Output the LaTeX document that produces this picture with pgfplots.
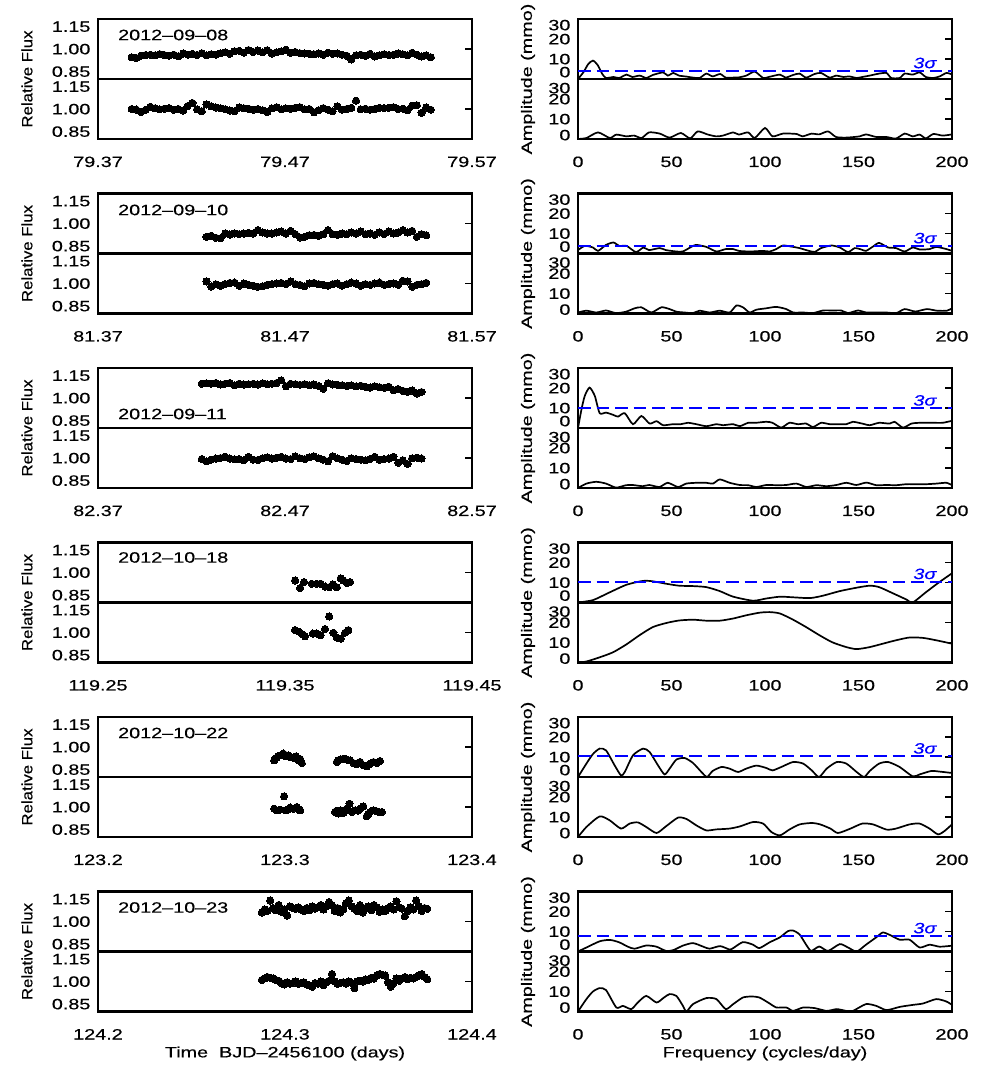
\documentclass[border=0pt]{standalone}
\usepackage{pgfplots}
\pgfplotsset{compat=1.18}
\usepackage{pgfplotstable}
\usepackage{fontspec}
\setmainfont{Liberation Sans}[FakeStretch=1.32, FakeBold=0.4]
\newfontfamily\labfont{Liberation Sans}[FakeStretch=1.12, FakeBold=0.4]

\pgfplotstableread{
t a b
79.3880 0.945 1.000
79.3905 0.940 0.996
79.3930 0.955 0.980
79.3955 0.960 0.995
79.3980 0.962 1.015
79.4005 0.958 1.005
79.4030 0.966 0.998
79.4055 0.960 1.002
79.4080 0.955 1.006
79.4105 0.962 0.995
79.4130 0.952 1.000
79.4155 0.970 0.990
79.4180 0.962 1.020
79.4205 0.968 1.040
79.4230 0.960 0.998
79.4255 0.972 0.985
79.4280 0.958 1.030
79.4305 0.965 1.018
79.4330 0.962 1.010
79.4355 0.972 1.005
79.4380 0.978 0.998
79.4405 0.968 0.990
79.4430 0.985 0.985
79.4455 0.988 1.010
79.4480 0.975 1.005
79.4505 0.993 1.002
79.4530 0.980 0.995
79.4555 0.990 1.000
79.4580 0.978 0.992
79.4605 0.992 0.980
79.4630 0.970 1.004
79.4655 0.978 1.012
79.4680 0.985 0.998
79.4705 0.995 1.004
79.4730 0.975 1.002
79.4755 0.980 1.008
79.4780 0.972 1.012
79.4805 0.970 0.998
79.4830 0.968 1.000
79.4855 0.965 0.978
79.4880 0.970 0.992
79.4905 0.962 1.006
79.4930 0.975 0.995
79.4955 0.968 0.985
79.4980 0.970 1.018
79.5005 0.962 0.995
79.5030 0.955 1.000
79.5055 0.930 1.008
79.5080 0.958 1.055
79.5105 0.962 0.998
79.5130 0.955 1.002
79.5155 0.968 0.995
79.5180 0.950 1.000
79.5205 0.958 1.008
79.5230 0.965 1.006
79.5255 0.960 1.008
79.5280 0.962 1.012
79.5305 0.970 1.000
79.5330 0.965 1.002
79.5355 0.958 0.992
79.5380 0.975 1.022
79.5405 0.962 1.025
79.5430 0.950 0.975
79.5455 0.958 1.010
79.5480 0.945 0.995
}\rowone

\pgfplotstableread{
t a b
81.4280 0.911 1.013
81.4305 0.918 0.980
81.4330 0.905 0.995
81.4355 0.902 0.985
81.4380 0.933 0.996
81.4405 0.926 1.004
81.4430 0.933 1.006
81.4455 0.929 0.985
81.4480 0.933 1.000
81.4505 0.938 0.991
81.4530 0.933 0.985
81.4555 0.956 0.978
81.4580 0.940 0.982
81.4605 0.933 0.991
81.4630 0.933 0.996
81.4655 0.940 1.000
81.4680 0.947 1.004
81.4705 0.933 0.996
81.4730 0.951 1.013
81.4755 0.929 0.996
81.4780 0.907 0.991
81.4805 0.911 0.982
81.4830 0.922 1.000
81.4855 0.924 1.004
81.4880 0.918 0.996
81.4905 0.929 0.991
81.4930 0.956 0.985
81.4955 0.929 0.996
81.4980 0.924 1.000
81.5005 0.933 0.985
81.5030 0.929 0.996
81.5055 0.940 1.006
81.5080 0.933 1.000
81.5105 0.947 0.985
81.5130 0.929 0.996
81.5155 0.933 0.991
81.5180 0.924 1.000
81.5205 0.940 1.006
81.5230 0.929 0.991
81.5255 0.947 0.996
81.5280 0.933 1.000
81.5305 0.940 0.991
81.5330 0.956 1.018
81.5355 0.940 1.013
81.5380 0.951 0.978
81.5405 0.911 0.991
81.5430 0.929 0.996
81.5455 0.922 1.004
}\rowtwo

\pgfplotstableread{
t a b
82.4255 1.095 0.993
82.4280 1.098 0.978
82.4305 1.095 0.989
82.4330 1.100 0.996
82.4355 1.090 1.000
82.4380 1.095 1.009
82.4405 1.100 0.996
82.4430 1.085 0.991
82.4455 1.095 0.993
82.4480 1.090 0.985
82.4505 1.092 1.007
82.4530 1.095 0.989
82.4555 1.090 0.987
82.4580 1.098 0.998
82.4605 1.092 1.004
82.4630 1.095 0.996
82.4655 1.100 1.002
82.4680 1.118 1.008
82.4705 1.078 0.996
82.4730 1.095 0.993
82.4755 1.092 1.011
82.4780 1.088 0.998
82.4805 1.092 0.993
82.4830 1.085 1.005
82.4855 1.090 1.011
82.4880 1.080 0.998
82.4905 1.062 0.989
82.4930 1.098 0.978
82.4955 1.090 1.012
82.4980 1.088 0.998
82.5005 1.085 0.989
82.5030 1.080 0.980
82.5055 1.085 0.998
82.5080 1.078 0.993
82.5105 1.082 0.989
82.5130 1.075 0.985
82.5155 1.070 0.993
82.5180 1.078 1.008
82.5205 1.072 0.989
82.5230 1.068 0.993
82.5255 1.075 0.996
82.5280 1.052 1.008
82.5305 1.060 0.968
82.5330 1.048 0.985
82.5355 1.042 0.960
82.5380 1.050 0.998
82.5405 1.030 1.002
82.5430 1.040 0.996
}\rowthree

\pgfplotstableread{
t a b
124.2876 1.060 1.010
124.2891 1.080 1.020
124.2906 1.070 1.030
124.2921 1.140 1.025
124.2936 1.090 1.020
124.2951 1.075 1.010
124.2966 1.110 1.005
124.2981 1.065 0.990
124.2996 1.080 0.980
124.3011 1.040 0.995
124.3026 1.100 0.985
124.3041 1.090 0.990
124.3056 1.085 1.000
124.3071 1.095 0.985
124.3086 1.080 0.990
124.3101 1.070 0.995
124.3116 1.090 0.980
124.3131 1.075 0.975
124.3146 1.100 0.965
124.3161 1.085 0.990
124.3176 1.095 0.985
124.3191 1.110 1.000
124.3206 1.080 0.975
124.3221 1.100 0.995
124.3236 1.130 1.005
124.3251 1.110 1.050
124.3266 1.070 1.000
124.3281 1.090 0.985
124.3296 1.060 0.990
124.3311 1.080 0.995
124.3326 1.120 0.985
124.3341 1.140 1.000
124.3356 1.100 0.990
124.3371 1.085 0.955
124.3386 1.070 1.000
124.3401 1.110 1.005
124.3416 1.060 1.000
124.3431 1.090 1.015
124.3446 1.100 1.010
124.3461 1.075 1.025
124.3476 1.110 1.020
124.3491 1.095 1.040
124.3506 1.065 1.050
124.3521 1.080 1.045
124.3536 1.070 1.040
124.3551 1.090 0.995
124.3566 1.100 0.965
124.3581 1.080 0.990
124.3596 1.135 1.020
124.3611 1.095 1.005
124.3626 1.085 1.020
124.3641 1.035 1.030
124.3656 1.070 1.015
124.3671 1.095 1.025
124.3686 1.080 1.020
124.3701 1.140 1.030
124.3716 1.100 1.040
124.3731 1.070 1.050
124.3746 1.090 1.030
124.3761 1.085 1.015
}\rowsix

\pgfplotsset{
  panel/.style={scale only axis, width=374pt, height=60pt,
    line width=2.2pt,
    axis line style={line width=2.2pt},
    every outer x axis line/.append style={line width=2.2pt},
    every outer y axis line/.append style={line width=2.2pt},
    tick style={line width=1.8pt, black},
    major tick length=7pt, tick align=inside,
    ytick pos=right, yticklabel pos=left,
    xtick style={draw=none},
    yticklabel style={anchor=base east, yshift=-5.3pt, xshift=-6pt, inner sep=0.5pt},
    xticklabel style={anchor=base, yshift=-28pt},
    extra y tick style={major tick length=0pt, tick style={draw=none}},
  },
  lc/.style={panel, ymin=0.8, ymax=1.2, ytick={1}, yticklabels={1.00},
    extra y ticks={0.85,1.15}, extra y tick labels={0.85,1.15},
    every axis y label/.style={at={(rel axis cs:0,0)}, xshift=-71pt, rotate=90, anchor=center, font=\labfont}},
  pg/.style={panel, xmin=0, xmax=200, ymin=0, ymax=30, ytick={10,20}, yticklabels={10,20},
    extra y ticks={0,30},
    every axis y label/.style={at={(rel axis cs:0,0)}, xshift=-50pt, rotate=90, anchor=center}},
  pgt/.style={pg, xtick=\empty, extra y tick labels={\raisebox{7pt}[0pt][0pt]{0},\raisebox{-6pt}[0pt][0pt]{30}}},
  pgb/.style={pg, xtick={0,50,100,150,200}, xticklabels={0,50,100,150,200},
    extra y tick labels={\raisebox{4pt}[0pt][0pt]{0},\raisebox{-9pt}[0pt][0pt]{30}}},
  up/.style={xtick=\empty},
  dots/.style={only marks, mark=*, mark size=3.6pt, mark options={black, fill=black, line width=0pt}},
  crv/.style={black, line width=1.7pt, smooth, tension=0.4, no marks},
  sig/.style={blue, line width=2.2pt, dash pattern=on 12.5pt off 6pt, no marks},
}
\newcommand\sig[1]{\node[blue, font=\itshape] at (axis cs:185.5,#1+4) {3σ};}

\begin{document}
\fontsize{15}{18}\selectfont
\begin{tikzpicture}
\path[use as bounding box] (0pt,0pt) rectangle (981pt,1088pt);

% ================= ROW 1 =================
\begin{axis}[lc, up, at={(98pt,1009pt)}, anchor=south west, xmin=79.37, xmax=79.57, ylabel={Relative Flux}]
\addplot[dots] table[x=t,y=a] {\rowone};
\node[anchor=west, inner sep=0pt] at (rel axis cs:0.051,0.733) {2012--09--08};
\end{axis}
\begin{axis}[lc, at={(98pt,949pt)}, anchor=south west, xmin=79.37, xmax=79.57,
  xtick={79.37,79.47,79.57}, xticklabels={79.37,79.47,79.57}]
\addplot[dots] table[x=t,y=b] {\rowone};
\end{axis}
\begin{axis}[pgt, at={(578pt,1009pt)}, anchor=south west, ylabel={Amplitude (mmo)}]
\addplot[crv] coordinates {(0,0)(3,3.5)(5.5,7.5)(8,9.2)(10.5,7)(13,2.5)(15,0.5)(19,1)(22,0.5)(26,2.2)(29,1)(33,1.7)(36.5,0.5)(40,2)(45.5,3.3)(48,1.7)(51,3)(54,1.7)(58,1.2)(61.5,0.7)(65,0.5)(68.6,2.7)(72,1.3)(76,2.5)(79,0.7)(83,0.7)(86,0.8)(90,1.7)(94.5,3.7)(99,0.5)(102,1)(108,2.2)(111,0.7)(115,2)(118.5,2.7)(122,0.7)(126.5,2.5)(130,3)(134.5,0.7)(138,1.7)(142,1)(145,1.3)(149,0.5)(152,1)(156,1.7)(161,2.7)(165,3)(167.5,0.5)(172,0.5)(174.7,2.7)(179,2.2)(182.7,3.3)(186,1)(190,0.5)(193.4,1.3)(197,3)(200,2.3)};
\addplot[sig] coordinates {(0,4)(200,4)};
\sig{4}
\end{axis}
\begin{axis}[pgb, at={(578pt,949pt)}, anchor=south west]
\addplot[crv] coordinates {(0,0)(4.5,0.5)(10.7,3.3)(17,0.5)(20.5,2.2)(26,1.3)(30,1.7)(34,0.5)(38,3.3)(43.7,2.7)(49,0.7)(55,3)(60,0.3)(64,3.8)(69.5,2.2)(74,1.3)(77.5,1.7)(83,3.3)(86,2.2)(91,3.3)(94.5,0.5)(100,5.5)(104,1.3)(109.6,2.7)(117,2.5)(120,1.3)(125,2.7)(129,2.3)(133.7,3.8)(138,1)(143.5,0.7)(150.6,1.3)(154,2.3)(159.5,1)(165,1)(170,0.2)(174.7,2.7)(179,1.3)(182.7,2.2)(186,0.3)(190,2.5)(195,1.7)(200,2.3)};
\end{axis}

% ================= ROW 2 =================
\begin{axis}[lc, up, at={(98pt,834.5pt)}, anchor=south west, xmin=81.37, xmax=81.57, ylabel={Relative Flux}]
\addplot[dots] table[x=t,y=a] {\rowtwo};
\node[anchor=west, inner sep=0pt] at (rel axis cs:0.051,0.725) {2012--09--10};
\end{axis}
\begin{axis}[lc, at={(98pt,774.5pt)}, anchor=south west, xmin=81.37, xmax=81.57,
  xtick={81.37,81.47,81.57}, xticklabels={81.37,81.47,81.57}]
\addplot[dots] table[x=t,y=b] {\rowtwo};
\end{axis}
\begin{axis}[pgt, at={(578pt,834.5pt)}, anchor=south west, ylabel={Amplitude (mmo)}]
\addplot[crv] coordinates {(0,1.7)(3.6,3.8)(8,3)(10.7,1.3)(15,4.3)(19,5.5)(22,3.8)(26,3.8)(31,0.7)(35,3)(38,1.7)(43.7,2.7)(47,1.7)(52.6,1)(56,1)(60,3)(63,4.3)(68.6,3.3)(74,1)(79,2.2)(83,2.2)(86,1.3)(92,1)(99,1.3)(102.5,1)(106,2.2)(109.6,4)(115,3.3)(118.5,2.7)(122,1.7)(126.5,0.8)(130,2.7)(135.5,4)(140,3)(144.4,0.7)(148,2.7)(151.5,2)(154,1.3)(157.8,3.5)(161,5.3)(165.8,3)(170,2.7)(174.7,1)(179,3)(182.7,2)(188,2.2)(191.6,3.3)(197,2.2)(200,1.3)};
\addplot[sig] coordinates {(0,3.7)(200,3.7)};
\sig{3.7}
\end{axis}
\begin{axis}[pgb, at={(578pt,774.5pt)}, anchor=south west]
\addplot[crv] coordinates {(0,0.5)(4.5,1.4)(9.8,0.5)(15,1.5)(20.3,0.2)(25.7,0.9)(30.3,2.6)(33.9,3.1)(39.2,0.5)(44.6,3.1)(49,2.2)(52.6,0.9)(57,0.5)(61.5,0.2)(65,1.4)(70.4,0.5)(75.8,1.4)(81.1,0.5)(84.7,4)(88.2,3.1)(91.8,0.5)(95.4,1.9)(100.7,2.6)(106,3.3)(111.4,2.2)(115,0.5)(120.4,0.5)(125.7,0.2)(131,1.5)(136.4,1.5)(140.8,1.5)(144.4,0.2)(149.7,1.5)(154.2,0.5)(159.5,0.5)(164.9,0.5)(170.2,0.2)(174.7,2.2)(180.4,1)(186.6,2.2)(191.9,1.4)(197.3,1.4)(200,2.6)};
\end{axis}

% ================= ROW 3 =================
\begin{axis}[lc, up, at={(98pt,660pt)}, anchor=south west, xmin=82.37, xmax=82.57, ylabel={Relative Flux}]
\addplot[dots] table[x=t,y=a] {\rowthree};
\node[anchor=west, inner sep=0pt] at (rel axis cs:0.051,0.233) {2012--09--11};
\end{axis}
\begin{axis}[lc, at={(98pt,600pt)}, anchor=south west, xmin=82.37, xmax=82.57,
  xtick={82.37,82.47,82.57}, xticklabels={82.37,82.47,82.57}]
\addplot[dots] table[x=t,y=b] {\rowthree};
\end{axis}
\begin{axis}[pgt, at={(578pt,660pt)}, anchor=south west, ylabel={Amplitude (mmo)}]
\addplot[crv] coordinates {(0,0)(1.8,9)(3.6,16)(6.2,20.2)(9,16)(11.6,7.4)(15,7.7)(19,6.5)(21.4,5.7)(25,7.4)(29.4,1.9)(33.9,6)(38.3,2.2)(42,3.4)(45.5,1.4)(50.8,1.9)(55,1.9)(58.8,2.6)(63.3,1.9)(68.6,0.9)(74,1.9)(77.5,1.4)(83,1.9)(86.5,0.9)(91,2.6)(95,2.6)(100.7,3.1)(104,2.6)(108.7,0.2)(113,2.6)(117.6,1.9)(122,2.2)(125.7,0.5)(130,2.6)(134.6,1.9)(138,1.9)(143.5,1.9)(147,3.1)(152,2.2)(156,1.4)(161,2.6)(166.7,2.2)(169.3,3.1)(173.8,0.2)(178.3,2.2)(182.7,2.6)(190,2.6)(195,2.6)(200,3.6)};
\addplot[sig] coordinates {(0,9.8)(200,9.8)};
\sig{9.8}
\end{axis}
\begin{axis}[pgb, at={(578pt,600pt)}, anchor=south west]
\addplot[crv] coordinates {(0,0)(4.5,2.2)(9.8,3.1)(15,2.2)(20.3,0.2)(25.7,1.4)(29.2,1.5)(34.6,0.9)(38.1,1.5)(43.5,0.5)(48,2.6)(53.5,0.5)(57.9,2.2)(63.3,2.6)(68.6,2.6)(72.2,2.2)(75.8,4.3)(81.1,2.6)(86.5,1.5)(91,1.4)(95.4,0.5)(100.7,1.5)(106,1.4)(111.4,1.5)(116.8,2.2)(122.1,0.5)(127.5,1.4)(132.8,0.9)(138.2,1.5)(143.5,2.6)(148.8,1.5)(154.2,2.7)(159.5,1.4)(164.9,1.5)(170.2,1.4)(175.6,1.9)(181,1.9)(186.3,1.9)(191.6,2.2)(197,2.6)(200,1.4)};
\end{axis}

% ================= ROW 4 =================
\begin{axis}[lc, up, at={(98pt,485.5pt)}, anchor=south west, xmin=119.25, xmax=119.45, ylabel={Relative Flux}]
\addplot[dots] coordinates {(119.3554,0.947)(119.3581,0.897)(119.3602,0.936)(119.3643,0.925)(119.3670,0.925)(119.3691,0.925)(119.3714,0.906)(119.3736,0.902)(119.3756,0.920)(119.3777,0.902)(119.3798,0.961)(119.3812,0.947)(119.3831,0.929)(119.3848,0.936)};
\node[anchor=west, inner sep=0pt] at (rel axis cs:0.051,0.75) {2012--10--18};
\end{axis}
\begin{axis}[lc, at={(98pt,425.5pt)}, anchor=south west, xmin=119.25, xmax=119.45,
  xtick={119.25,119.35,119.45}, xticklabels={119.25,119.35,119.45}]
\addplot[dots] coordinates {(119.3554,1.016)(119.3575,1.005)(119.3593,0.989)(119.3607,0.975)(119.3649,0.993)(119.3670,0.993)(119.3691,0.982)(119.3714,1.023)(119.3736,1.107)(119.3759,0.998)(119.3777,0.966)(119.3798,0.959)(119.3821,0.998)(119.3839,1.016)};
\end{axis}
\begin{axis}[pgt, at={(578pt,485.5pt)}, anchor=south west, ylabel={Amplitude (mmo)}]
\addplot[crv] coordinates {(0,0)(8,1.2)(17,5.1)(26,8.9)(34.8,10.8)(40,10.6)(47,9.4)(54,8.4)(61.5,8.2)(68.6,7.7)(75.8,5.7)(83,2.9)(93.6,0.9)(100.7,2)(108,2.9)(115,2.6)(124,2.2)(131,3.4)(140,5.7)(149,7.4)(156,8.4)(161,7.7)(168.4,4.6)(175.6,1.5)(179,0)(186,5.1)(193.4,10.3)(200,14.6)};
\addplot[sig] coordinates {(0,10.3)(200,10.3)};
\sig{10.3}
\end{axis}
\begin{axis}[pgb, at={(578pt,425.5pt)}, anchor=south west]
\addplot[crv] coordinates {(0,0)(4.5,0.5)(11.6,2.6)(18.7,5.1)(25.8,9)(33,13.7)(40,17.7)(47,19.7)(54,21)(61.5,21.4)(68.6,20.9)(75.8,20.9)(83,22)(90,23.6)(97,24.9)(102.5,25.2)(108,24.5)(115,21.4)(122,17.7)(129,13.7)(136,10.1)(143.5,7.7)(149,6.7)(156,7.7)(163,9.4)(170,11.1)(177.3,12.5)(184.5,12.3)(191.6,11.1)(200,9.4)};
\end{axis}

% ================= ROW 5 =================
\begin{axis}[lc, up, at={(98pt,311pt)}, anchor=south west, xmin=123.2, xmax=123.4, ylabel={Relative Flux}]
\addplot[dots] coordinates {(123.2942,0.911)(123.2950,0.925)(123.2956,0.929)(123.2965,0.940)(123.2974,0.944)(123.2991,0.956)(123.3000,0.948)(123.3006,0.938)(123.3018,0.945)(123.3027,0.933)(123.3045,0.929)(123.3059,0.938)(123.3072,0.911)(123.3081,0.920)(123.3090,0.893)
(123.3277,0.900)(123.3286,0.912)(123.3295,0.916)(123.3312,0.922)(123.3322,0.918)(123.3330,0.916)(123.3348,0.911)(123.3366,0.893)(123.3384,0.885)(123.3393,0.895)(123.3402,0.900)(123.3419,0.878)(123.3437,0.871)(123.3446,0.880)(123.3455,0.889)(123.3473,0.900)(123.3491,0.893)(123.3500,0.900)(123.3508,0.907)};
\node[anchor=west, inner sep=0pt] at (rel axis cs:0.051,0.733) {2012--10--22};
\end{axis}
\begin{axis}[lc, at={(98pt,251pt)}, anchor=south west, xmin=123.2, xmax=123.4,
  xtick={123.2,123.3,123.4}, xticklabels={123.2,123.3,123.4}]
\addplot[dots] coordinates {(123.2942,0.989)(123.2956,0.978)(123.2974,0.982)(123.2995,1.071)(123.3006,0.978)(123.3016,0.985)(123.3027,0.996)(123.3045,0.989)(123.3063,1.000)(123.3072,0.985)(123.3081,0.978)
(123.3268,0.967)(123.3276,0.975)(123.3286,0.956)(123.3298,0.978)(123.3312,0.960)(123.3320,0.972)(123.3330,0.989)(123.3345,1.022)(123.3357,0.967)(123.3375,0.978)(123.3390,0.975)(123.3402,0.989)(123.3419,1.004)(123.3437,0.938)(123.3446,0.955)(123.3455,0.967)(123.3473,0.978)(123.3490,0.972)(123.3500,0.967)(123.3518,0.967)};
\end{axis}
\begin{axis}[pgt, at={(578pt,311pt)}, anchor=south west, ylabel={Amplitude (mmo)}]
\addplot[crv] coordinates {(0,0)(4.5,6.7)(8,11.5)(11.6,14.2)(15,13.3)(19.6,5.8)(23,0.8)(25,2.5)(29.4,10.8)(34.8,14.2)(38.3,12.5)(42.8,5.8)(46.3,1.3)(49,4.2)(52.6,8.7)(57,9.5)(61.5,7)(66,2.5)(69,0)(72,3)(76.7,5)(81,4.2)(85.6,2.5)(90,4.2)(95.4,5.7)(100.7,4.5)(104,3.3)(108.7,5)(115,7.5)(120.4,6.7)(125,3.3)(128.9,0)(133,4.2)(138.4,7.5)(143.5,6.7)(149,2.5)(153,0)(156,3)(161,6.7)(165.8,7.5)(172,5)(179,0.3)(182.7,1.3)(188.9,3)(193.4,2.7)(200,2)};
\addplot[sig] coordinates {(0,10.3)(200,10.3)};
\sig{10.3}
\end{axis}
\begin{axis}[pgb, at={(578pt,251pt)}, anchor=south west]
\addplot[crv] coordinates {(0,0)(4.5,5)(11.6,10.3)(17,8.3)(23,4.2)(27.6,6.7)(32,7.3)(36.5,5)(42,2)(47,5.3)(53.5,9.7)(58,9)(63.3,5.8)(68.6,3.3)(74,3.8)(81,4.2)(86.6,5.3)(93.6,7.5)(99,6.7)(103.4,2.5)(108,0.8)(113,3.7)(118.5,6.3)(125,7)(129.5,6.3)(135,4.2)(139,2)(145.7,4.2)(152,6.7)(157.8,6.3)(165,3.7)(170,4.2)(177.3,6.3)(182.7,6.7)(188,4.2)(192.5,1.3)(196,3)(200,6.3)};
\end{axis}

% ================= ROW 6 =================
\begin{axis}[lc, up, at={(98pt,136.5pt)}, anchor=south west, xmin=124.2, xmax=124.4, ylabel={Relative Flux}]
\addplot[dots] table[x=t,y=a] {\rowsix};
\node[anchor=west, inner sep=0pt] at (rel axis cs:0.051,0.733) {2012--10--23};
\end{axis}
\begin{axis}[lc, at={(98pt,76.5pt)}, anchor=south west, xmin=124.2, xmax=124.4,
  xtick={124.2,124.3,124.4}, xticklabels={124.2,124.3,124.4},
  xlabel={Time\ \ BJD--2456100 (days)},
  every axis x label/.style={at={(rel axis cs:0.5,0)}, anchor=center, yshift=-42pt}]
\addplot[dots] table[x=t,y=b] {\rowsix};
\end{axis}
\begin{axis}[pgt, at={(578pt,136.5pt)}, anchor=south west, ylabel={Amplitude (mmo)}]
\addplot[crv] coordinates {(0,0)(4.5,2)(11.6,5.1)(17,5.8)(22,4.6)(26.7,2.4)(30.3,1.4)(36.5,3)(42,2.4)(47,0.3)(51,0.7)(56,2.9)(61.5,4.2)(67,2.4)(70.4,1.4)(76,2.7)(81,1)(83,1.7)(88.2,4.7)(93.6,3.4)(97,1.7)(102.5,4.6)(108,7.1)(112.3,10.2)(115,10.5)(118.5,8.5)(122,3.4)(124.7,0.3)(129,2.5)(133.7,0.3)(140,3.7)(144.4,2)(149,0)(154,3.4)(159.5,7.1)(163,9.5)(166.7,8.3)(172,5.9)(177.3,5.9)(182.7,2)(188,3.4)(193.4,2.4)(200,2.9)};
\addplot[sig] coordinates {(0,7.7)(200,7.7)};
\sig{7.7}
\end{axis}
\begin{axis}[pgb, at={(578pt,76.5pt)}, anchor=south west,
  xlabel={Frequency (cycles/day)},
  every axis x label/.style={at={(rel axis cs:0.5,0)}, anchor=center, yshift=-42pt}]
\addplot[crv] coordinates {(0,0)(4.5,6.2)(8,10)(11.6,11.7)(15,10.7)(20.5,2)(24,2.8)(28.5,1.2)(32,4.5)(36.5,7.8)(42,4.5)(46,7)(49,8.7)(52.6,7.8)(56,3)(58,0)(61.5,3.7)(68.6,6.7)(74,6.2)(79,1.2)(83,3.7)(88.2,7)(93,7.5)(97,7)(102.5,4)(106,2)(111.4,2)(115,0.3)(120.4,2)(126.5,1.7)(133,0.3)(138.4,1.2)(143.5,0.3)(147,0.3)(154,3.7)(159.5,2.8)(165,0.7)(172,2.3)(179,3.3)(184.5,4)(191.6,6.2)(197,5)(200,3.3)};
\end{axis}
\end{tikzpicture}
\end{document}
